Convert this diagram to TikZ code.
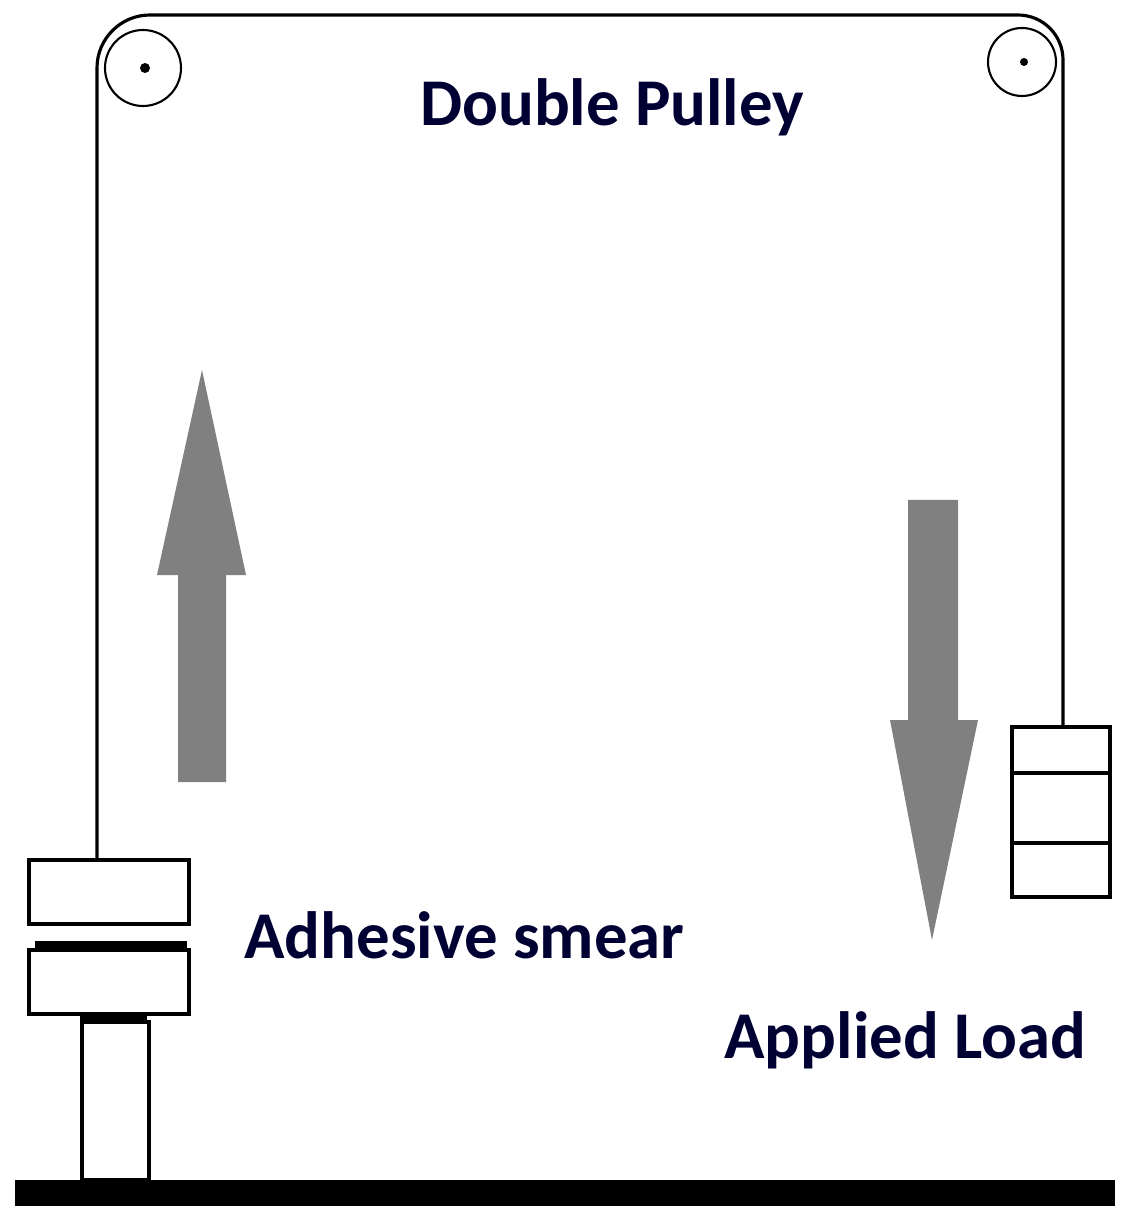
\documentclass[tikz,border=0pt]{standalone}
\usepackage{fontspec}
\setmainfont{Carlito}
\begin{document}
\begin{tikzpicture}[x=0.01cm,y=-0.01cm,
  line/.style={black,line width=0.9pt},
  box/.style={draw=black,line width=1.1pt,fill=white},
  lbl/.style={font=\bfseries\fontsize{19}{22}\selectfont,text=black!80!blue},
  garrow/.style={fill=black!50,draw=none}]
\useasboundingbox (0,0) rectangle (1127,1228);
% rope
\coordinate (lp) at (143,68);
\coordinate (rp) at (1022,62);
\draw[line] (97,858) -- (97,68) arc[start angle=180,end angle=270,radius=53] -- (1018,15) arc[start angle=270,end angle=360,radius=45] -- (1063,725);
\draw[black,line width=0.6pt] (lp) circle[radius=38];
\draw[black,line width=0.6pt] (rp) circle[radius=34];
\fill (lp) ++(2,0) circle[radius=5];
\fill (rp) ++(2,0) circle[radius=4];
% left blocks
\node[box,inner sep=0,anchor=north west,minimum width=1.6cm,minimum height=0.64cm] (b1) at (27,858) {};
\node[box,inner sep=0,anchor=north west,minimum width=1.6cm,minimum height=0.64cm] (b2) at (27,948) {};
\draw[black,line width=2pt] (35,945) -- (187,945);
\node[box,inner sep=0,anchor=north west,minimum width=0.67cm,minimum height=1.58cm] (col) at (80,1020) {};
\draw[black,line width=2pt] (80,1020) -- (147,1020);
% base
\fill[black] (15,1180) rectangle (1115,1206);
% weights
\node[box,inner sep=0,anchor=north west,minimum width=0.98cm,minimum height=1.7cm] (w) at (1010,725) {};
\draw[black,line width=1.1pt] (1010,773) -- (1108,773) (1010,843) -- (1108,843);
% arrows
\fill[garrow] (178,782) -- (178,575) -- (157,575) -- (202,370) -- (246,575) -- (226,575) -- (226,782) -- cycle;
\fill[garrow] (908,500) -- (908,720) -- (890,720) -- (932,940) -- (978,720) -- (958,720) -- (958,500) -- cycle;
% labels
\node[lbl] (t1) at (612,107) {Double Pulley};
\node[lbl,anchor=west] (t2) at (232,935) {Adhesive smear};
\node[lbl,anchor=west] (t3) at (712,1040) {Applied Load};
\end{tikzpicture}
\end{document}
